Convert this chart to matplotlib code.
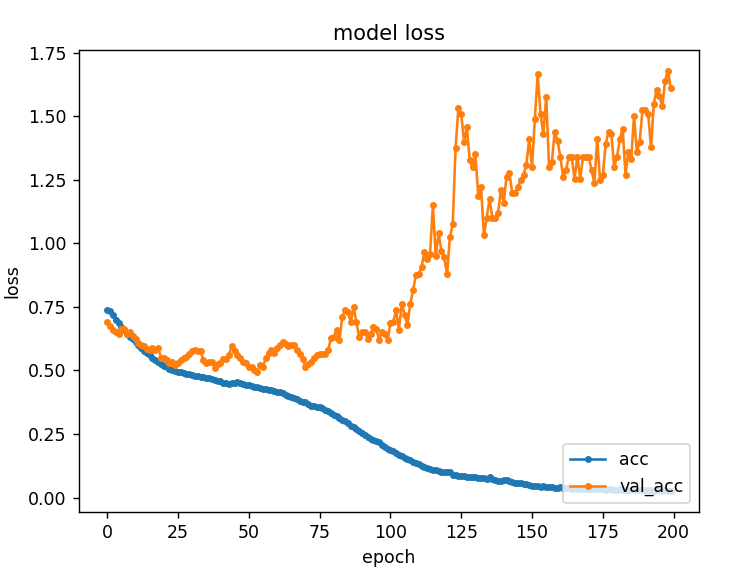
import matplotlib
matplotlib.use('Agg')
import matplotlib.pyplot as plt
from matplotlib.transforms import Bbox

# ── Data ──────────────────────────────────────────────────────────────────────

acc = [
    0.737, 0.733, 0.720, 0.700, 0.685, 0.672, 0.658, 0.645, 0.632, 0.622,
    0.612, 0.600, 0.590, 0.578, 0.570, 0.560, 0.551, 0.542, 0.535, 0.527,
    0.518, 0.513, 0.507, 0.502, 0.498, 0.496, 0.493, 0.490, 0.487, 0.486,
    0.482, 0.480, 0.477, 0.475, 0.474, 0.471, 0.469, 0.466, 0.462, 0.458,
    0.457, 0.452, 0.449, 0.447, 0.452, 0.450, 0.455, 0.451, 0.447, 0.444,
    0.443, 0.440, 0.437, 0.434, 0.432, 0.428, 0.426, 0.423, 0.422, 0.418,
    0.415, 0.414, 0.410, 0.405, 0.400, 0.396, 0.392, 0.386, 0.380, 0.378,
    0.377, 0.368, 0.362, 0.360, 0.358, 0.356, 0.352, 0.345, 0.340, 0.332,
    0.326, 0.320, 0.312, 0.306, 0.300, 0.292, 0.283, 0.278, 0.270, 0.262,
    0.255, 0.248, 0.240, 0.232, 0.227, 0.223, 0.218, 0.205, 0.198, 0.192,
    0.186, 0.182, 0.176, 0.168, 0.162, 0.157, 0.152, 0.146, 0.140, 0.135,
    0.131, 0.126, 0.121, 0.118, 0.114, 0.110, 0.108, 0.105, 0.102, 0.100,
    0.099, 0.102, 0.090, 0.088, 0.086, 0.085, 0.084, 0.083, 0.082, 0.082,
    0.080, 0.078, 0.077, 0.077, 0.075, 0.080, 0.072, 0.068, 0.065, 0.067,
    0.070, 0.068, 0.064, 0.060, 0.058, 0.058, 0.056, 0.054, 0.053, 0.050,
    0.047, 0.045, 0.045, 0.043, 0.044, 0.042, 0.041, 0.040, 0.039, 0.038,
    0.040, 0.037, 0.036, 0.037, 0.035, 0.036, 0.034, 0.035, 0.034, 0.033,
    0.035, 0.034, 0.032, 0.033, 0.034, 0.032, 0.031, 0.033, 0.032, 0.030,
    0.031, 0.032, 0.030, 0.029, 0.031, 0.030, 0.029, 0.028, 0.030, 0.029,
    0.028, 0.030, 0.029, 0.027, 0.028, 0.029, 0.027, 0.028, 0.027, 0.026,
]

val_acc = [
    0.690, 0.675, 0.660, 0.650, 0.645, 0.665, 0.665, 0.645, 0.650, 0.635,
    0.625, 0.610, 0.600, 0.595, 0.585, 0.580, 0.590, 0.580, 0.590, 0.550,
    0.550, 0.540, 0.530, 0.535, 0.520, 0.530, 0.540, 0.548, 0.555, 0.565,
    0.575, 0.580, 0.575, 0.575, 0.540, 0.530, 0.535, 0.535, 0.508, 0.525,
    0.530, 0.545, 0.545, 0.560, 0.597, 0.575, 0.560, 0.548, 0.535, 0.530,
    0.515, 0.515, 0.500, 0.495, 0.520, 0.515, 0.550, 0.570, 0.580, 0.570,
    0.590, 0.600, 0.613, 0.605, 0.597, 0.600, 0.600, 0.580, 0.565, 0.545,
    0.515, 0.525, 0.535, 0.550, 0.560, 0.565, 0.565, 0.565, 0.580, 0.626,
    0.630, 0.660, 0.620, 0.710, 0.737, 0.730, 0.690, 0.748, 0.690, 0.630,
    0.650, 0.650, 0.625, 0.645, 0.670, 0.665, 0.620, 0.650, 0.645, 0.620,
    0.685, 0.690, 0.737, 0.660, 0.763, 0.720, 0.680, 0.760, 0.816, 0.875,
    0.880, 0.907, 0.966, 0.937, 0.960, 1.149, 0.950, 1.040, 0.970, 0.945,
    0.878, 1.025, 1.075, 1.375, 1.532, 1.509, 1.400, 1.456, 1.328, 1.300,
    1.352, 1.188, 1.220, 1.031, 1.100, 1.175, 1.100, 1.100, 1.120, 1.208,
    1.160, 1.263, 1.276, 1.200, 1.200, 1.220, 1.250, 1.270, 1.310, 1.410,
    1.300, 1.490, 1.665, 1.510, 1.430, 1.576, 1.300, 1.320, 1.440, 1.404,
    1.340, 1.260, 1.290, 1.340, 1.340, 1.255, 1.340, 1.255, 1.340, 1.340,
    1.340, 1.290, 1.237, 1.410, 1.250, 1.270, 1.390, 1.440, 1.430, 1.300,
    1.340, 1.410, 1.450, 1.270, 1.360, 1.330, 1.500, 1.360, 1.400, 1.524,
    1.524, 1.510, 1.378, 1.550, 1.603, 1.580, 1.540, 1.640, 1.678, 1.610,
]

series_names = ['acc', 'val_acc']

# ── Plot ──────────────────────────────────────────────────────────────────────

fig = plt.figure(figsize=(6.4, 4.8), dpi=125)
plt.plot(acc, marker='.')
plt.plot(val_acc, marker='.')
plt.title('model loss')
plt.ylabel('loss')
plt.xlabel('epoch')
plt.legend(series_names, loc='lower right')

# the reference is a crop of the default 800x600 render
crop = Bbox([[21 / 125, 6 / 125], [769 / 125, 578 / 125]])
fig.savefig('out.png', dpi=125, bbox_inches=crop)
